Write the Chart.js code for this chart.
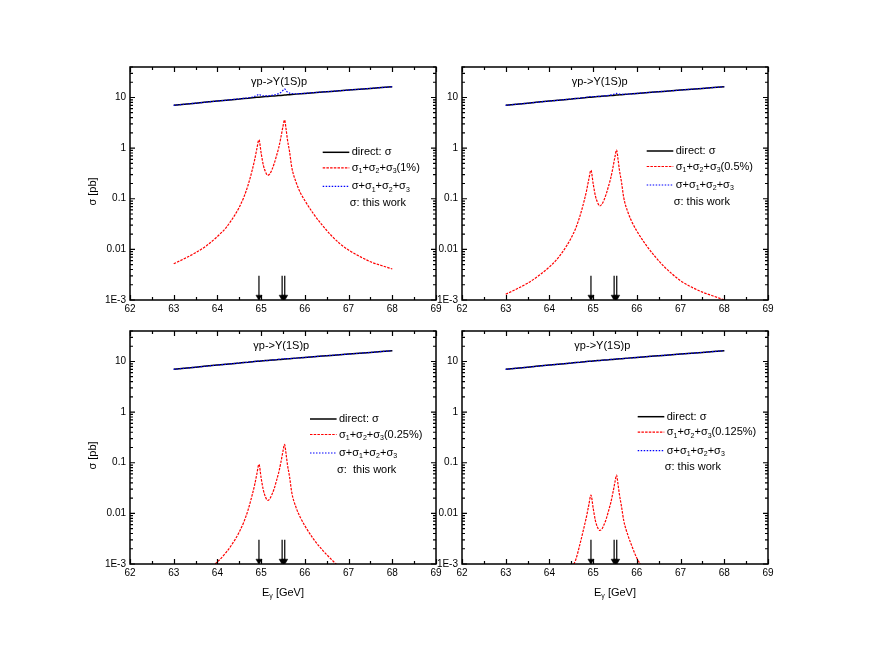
<!DOCTYPE html>
<html>
<head>
<meta charset="utf-8">
<script src="https://cdn.jsdelivr.net/npm/chart.js@4.4.0/dist/chart.umd.min.js"></script>
<style>
  body { margin: 0; background: #fff; width: 872px; height: 668px; position: relative; overflow: hidden; }
  canvas { position: absolute; }
</style>
</head>
<body>
<canvas id="c1" width="366" height="283" style="left:80px;top:57px"></canvas>
<canvas id="c2" width="366" height="283" style="left:412px;top:57px"></canvas>
<canvas id="c3" width="366" height="283" style="left:80px;top:321px"></canvas>
<canvas id="c4" width="366" height="283" style="left:412px;top:321px"></canvas>
<script>
// photon energy grid (GeV)
const energies = [63, 63.25, 63.5, 63.75, 64, 64.2, 64.4, 64.5, 64.6, 64.7, 64.8, 64.85, 64.9, 64.95,
  65.0, 65.05, 65.1, 65.15, 65.2, 65.25, 65.3, 65.35, 65.4, 65.45, 65.5, 65.535, 65.57, 65.6, 65.65, 65.7, 65.8, 65.9,
  66, 66.2, 66.4, 66.6, 66.8, 67, 67.25, 67.5, 67.75, 68];

// direct: sigma (pb), same in all panels
const directSigma = [7.0, 7.35, 7.7, 8.1, 8.5, 8.8, 9.15, 9.3, 9.5, 9.65, 9.85, 9.95, 10.05, 10.1,
  10.2, 10.3, 10.4, 10.45, 10.55, 10.65, 10.75, 10.8, 10.9, 11.0, 11.1, 11.15, 11.2, 11.3, 11.35, 11.45, 11.65, 11.8,
  12.0, 12.4, 12.8, 13.2, 13.6, 14.0, 14.55, 15.1, 15.7, 16.3];

// sigma1+sigma2+sigma3 for 1%, 0.5%, 0.25%, 0.125%
const sum1 = [0.0052, 0.0066, 0.0086, 0.0118, 0.018, 0.027, 0.048, 0.068, 0.105, 0.185, 0.38, 0.58, 0.95, 1.46,
  0.80, 0.46, 0.34, 0.29, 0.31, 0.38, 0.50, 0.70, 1.0, 1.6, 2.7, 3.6, 2.4, 1.5, 0.85, 0.42, 0.21, 0.13,
  0.092, 0.05, 0.03, 0.019, 0.013, 0.0097, 0.0073, 0.0057, 0.0048, 0.0041];
const sum2 = [0.0013, 0.00165, 0.00215, 0.003, 0.0045, 0.0068, 0.012, 0.017, 0.026, 0.046, 0.095, 0.145, 0.24, 0.365,
  0.20, 0.115, 0.085, 0.072, 0.078, 0.095, 0.125, 0.175, 0.25, 0.40, 0.68, 0.92, 0.60, 0.375, 0.21, 0.105, 0.053, 0.033,
  0.023, 0.0125, 0.0075, 0.0048, 0.0033, 0.0024, 0.0018, 0.00143, 0.0012, 0.001];
const sum3 = [null, null, null, 0.00074, 0.0011, 0.0017, 0.003, 0.0043, 0.0066, 0.0116, 0.024, 0.036, 0.059, 0.093,
  0.05, 0.029, 0.021, 0.018, 0.0195, 0.024, 0.031, 0.044, 0.063, 0.10, 0.17, 0.23, 0.15, 0.094, 0.053, 0.026, 0.013, 0.0082,
  0.0057, 0.0031, 0.0019, 0.00125, 0.00085, null, null, null, null, null];
const sum4 = [null, null, null, null, null, null, 0.00055, 0.0008, 0.0012, 0.0025, 0.0057, 0.0088, 0.0145, 0.023,
  0.0128, 0.0073, 0.0053, 0.0046, 0.0049, 0.006, 0.0078, 0.011, 0.0158, 0.025, 0.042, 0.057, 0.037, 0.024, 0.0135, 0.0072, 0.0036, 0.0021,
  0.0013, 0.0007, null, null, null, null, null, null, null, null];

// sigma+sigma1+sigma2+sigma3
const total1 = [7.01, 7.36, 7.71, 8.11, 8.52, 8.83, 9.2, 9.37, 9.6, 9.84, 10.23, 10.53, 11.0, 11.56,
  11.0, 10.76, 10.74, 10.74, 10.86, 11.03, 11.25, 11.5, 11.9, 12.6, 13.8, 14.75, 13.6, 12.8, 12.2, 11.87, 11.86, 11.93,
  12.09, 12.45, 12.83, 13.22, 13.61, 14.01, 14.56, 15.11, 15.7, 16.3];
const total2 = [7.0, 7.35, 7.7, 8.1, 8.5, 8.81, 9.16, 9.32, 9.53, 9.7, 9.95, 10.1, 10.29, 10.47,
  10.4, 10.42, 10.49, 10.52, 10.63, 10.75, 10.88, 10.98, 11.15, 11.4, 11.78, 12.07, 11.8, 11.68, 11.56, 11.56, 11.7, 11.83,
  12.02, 12.41, 12.81, 13.2, 13.6, 14.0, 14.55, 15.1, 15.7, 16.3];
const total3 = [7.0, 7.35, 7.7, 8.1, 8.5, 8.8, 9.15, 9.3, 9.51, 9.66, 9.87, 9.99, 10.11, 10.19,
  10.25, 10.33, 10.42, 10.47, 10.57, 10.67, 10.78, 10.84, 10.96, 11.1, 11.27, 11.38, 11.35, 11.39, 11.4, 11.48, 11.66, 11.81,
  12.0, 12.4, 12.8, 13.2, 13.6, 14.0, 14.55, 15.1, 15.7, 16.3];
const total4 = [7.0, 7.35, 7.7, 8.1, 8.5, 8.8, 9.15, 9.3, 9.5, 9.65, 9.86, 9.96, 10.06, 10.12,
  10.21, 10.31, 10.41, 10.45, 10.55, 10.66, 10.76, 10.81, 10.92, 11.03, 11.14, 11.21, 11.24, 11.32, 11.36, 11.46, 11.65, 11.8,
  12.0, 12.4, 12.8, 13.2, 13.6, 14.0, 14.55, 15.1, 15.7, 16.3];

const fractions = ['1%', '0.5%', '0.25%', '0.125%'];
const thisWork = ['σ: this work', 'σ: this work', 'σ:  this work', 'σ: this work'];

// threshold arrows
const arrowE = [64.95, 65.48, 65.54];
const arrowTop = 0.003;
const arrowHead = 0.00115;

// axes
const xTicks = [62, 63, 64, 65, 66, 67, 68, 69];
const yTicks = [0.001, 0.01, 0.1, 1, 10];
const yTickLabels = ['1E-3', '0.01', '0.1', '1', '10'];

const FONT = 'Liberation Sans, Arial, Helvetica, sans-serif';

const panels = [
  { id: 'c1', sum: sum1, total: total1, titleE: 65.41, leg: [192.7, 85.3], yTitle: true, xTitle: false },
  { id: 'c2', sum: sum2, total: total2, titleE: 65.15, leg: [184.7, 84], yTitle: false, xTitle: false },
  { id: 'c3', sum: sum3, total: total3, titleE: 65.46, leg: [180, 88], yTitle: true, xTitle: true },
  { id: 'c4', sum: sum4, total: total4, titleE: 65.21, leg: [175.7, 85.7], yTitle: false, xTitle: true }
];

function drawRich(ctx, parts, x, y) {
  for (const [t, sub] of parts) {
    ctx.font = sub ? '7px ' + FONT : '11px ' + FONT;
    ctx.fillText(t, x, sub ? y + 3.5 : y);
    x += ctx.measureText(t).width;
  }
  return x;
}
function richWidth(ctx, parts) {
  let w = 0;
  for (const [t, sub] of parts) {
    ctx.font = sub ? '7px ' + FONT : '11px ' + FONT;
    w += ctx.measureText(t).width;
  }
  return w;
}

// frame, inward ticks, texts and legend
const decor = {
  id: 'decor',
  afterDatasetsDraw(chart, args, opts) {
    const { ctx, chartArea: a, scales: { x, y } } = chart;
    const p = opts.panel, idx = opts.index;
    ctx.save();
    ctx.strokeStyle = '#000';
    ctx.lineWidth = 1.2;
    ctx.beginPath();
    for (let e = xTicks[0]; e <= xTicks[xTicks.length - 1]; e += 0.5) {
      const px = Math.round(x.getPixelForValue(e)) + 0.5;
      const len = Number.isInteger(e) ? 5 : 3;
      ctx.moveTo(px, a.bottom); ctx.lineTo(px, a.bottom - len);
      ctx.moveTo(px, a.top); ctx.lineTo(px, a.top + len);
    }
    for (const d of yTicks) {
      for (let m = 1; m <= 9; m++) {
        const v = d * m;
        if (v > y.max) break;
        const py = y.getPixelForValue(v);
        const len = m === 1 ? 5 : 3;
        ctx.moveTo(a.left, py); ctx.lineTo(a.left + len, py);
        ctx.moveTo(a.right, py); ctx.lineTo(a.right - len, py);
      }
    }
    ctx.stroke();
    ctx.lineWidth = 1.5;
    ctx.strokeRect(a.left, a.top, a.width, a.height);

    ctx.fillStyle = '#000';
    ctx.textBaseline = 'middle';

    // reaction label
    ctx.font = '11px ' + FONT;
    ctx.textAlign = 'center';
    ctx.fillText('γp->Y(1S)p', x.getPixelForValue(p.titleE), y.getPixelForValue(20));

    // legend
    ctx.textAlign = 'left';
    const lx = a.left + p.leg[0], ly = a.top + p.leg[1];
    const rows = [0, 15.5, 34, 50.5];
    const styles = [
      { c: '#000', w: 1.5, d: [] },
      { c: '#ff0000', w: 1.2, d: [2.5, 1.2] },
      { c: '#0000ff', w: 1.2, d: [1.5, 1.5] }
    ];
    styles.forEach((s, i) => {
      ctx.strokeStyle = s.c; ctx.lineWidth = s.w; ctx.setLineDash(s.d);
      ctx.beginPath();
      ctx.moveTo(lx, ly + rows[i]); ctx.lineTo(lx + 26.6, ly + rows[i]);
      ctx.stroke();
    });
    ctx.setLineDash([]);
    const tx = lx + 29;
    drawRich(ctx, [['direct: σ', 0]], tx, ly + rows[0]);
    drawRich(ctx, [['σ', 0], ['1', 1], ['+σ', 0], ['2', 1], ['+σ', 0], ['3', 1], ['(' + fractions[idx] + ')', 0]], tx, ly + rows[1]);
    drawRich(ctx, [['σ+σ', 0], ['1', 1], ['+σ', 0], ['2', 1], ['+σ', 0], ['3', 1]], tx, ly + rows[2]);
    drawRich(ctx, [[thisWork[idx], 0]], tx - 2, ly + rows[3]);

    // axis titles
    if (p.yTitle) {
      ctx.save();
      ctx.translate(13, (a.top + a.bottom) / 2 + 8);
      ctx.rotate(-Math.PI / 2);
      ctx.textAlign = 'center';
      ctx.font = '11px ' + FONT;
      ctx.fillText('σ [pb]', 0, 0);
      ctx.restore();
    }
    if (p.xTitle) {
      const parts = [['E', 0], ['γ', 1], [' [GeV]', 0]];
      const w = richWidth(ctx, parts);
      drawRich(ctx, parts, (a.left + a.right) / 2 - w / 2, a.bottom + 29);
    }
    ctx.restore();
  }
};

panels.forEach((p, idx) => {
  const pts = arr => energies.map((e, i) => ({ x: e, y: arr[i] }));
  const datasets = [
    { data: pts(p.total), borderColor: '#0000ff', borderWidth: 1.2, borderDash: [1.5, 1.5], order: 0, cubicInterpolationMode: 'monotone' },
    { data: pts(p.sum), borderColor: '#ff0000', borderWidth: 1.2, borderDash: [2.5, 1.2], order: 1, cubicInterpolationMode: 'monotone' },
    { data: pts(directSigma), borderColor: '#000', borderWidth: 1.5, order: 2 }
  ];
  arrowE.forEach(e => {
    datasets.push({
      data: [{ x: e, y: arrowTop }, { x: e, y: arrowHead }],
      borderColor: '#000', borderWidth: 1.2, order: 0,
      pointRadius: [0, 3.5], pointStyle: 'triangle', pointRotation: 180,
      pointBackgroundColor: '#000', pointBorderColor: '#000', pointBorderWidth: 0.5
    });
  });
  datasets.forEach(d => {
    d.fill = false; d.spanGaps = false;
    if (d.pointRadius === undefined) d.pointRadius = 0;
  });

  new Chart(document.getElementById(p.id), {
    type: 'line',
    data: { datasets },
    options: {
      responsive: false,
      animation: false,
      layout: { padding: { left: 0, top: 10, right: 10, bottom: 0 } },
      plugins: { legend: { display: false }, tooltip: { enabled: false }, decor: { panel: p, index: idx } },
      scales: {
        x: {
          type: 'linear', min: 62, max: 69,
          afterBuildTicks: s => { s.ticks = xTicks.map(v => ({ value: v })); },
          afterFit: s => { s.height = 40; },
          grid: { display: false, drawTicks: false },
          border: { display: false },
          ticks: { color: '#000', font: { family: FONT, size: 10 }, padding: 3, maxRotation: 0, autoSkip: false }
        },
        y: {
          type: 'logarithmic', min: 0.001, max: 40,
          afterBuildTicks: s => { s.ticks = yTicks.map(v => ({ value: v })); },
          afterFit: s => { s.width = 50; },
          grid: { display: false, drawTicks: false },
          border: { display: false },
          ticks: { color: '#000', font: { family: FONT, size: 10 }, padding: 4, autoSkip: false,
            callback: (v, i) => yTickLabels[i] }
        }
      }
    },
    plugins: [decor]
  });
});
</script>
</body>
</html>
